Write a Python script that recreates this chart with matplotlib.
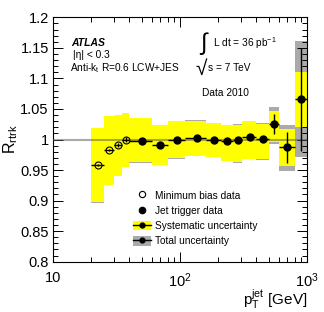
import matplotlib
matplotlib.use("Agg")
import matplotlib.pyplot as plt
from matplotlib.lines import Line2D
from matplotlib.patches import Patch
from matplotlib.ticker import MultipleLocator, LogLocator, FuncFormatter, NullFormatter
import numpy as np

plt.rcParams["font.family"] = ["Liberation Sans", "DejaVu Sans"]
plt.rcParams["mathtext.fontset"] = "custom"
plt.rcParams["mathtext.rm"] = "Liberation Sans"
plt.rcParams["mathtext.it"] = "Liberation Sans:italic"
plt.rcParams["mathtext.bf"] = "Liberation Sans:bold"

# pT bin edges [GeV]
edges = np.array([20, 25, 30, 35, 40, 60, 80, 110, 160, 210, 260, 310, 400, 500, 600, 800, 1000])

# minimum bias data (first 4 bins)
mb_val = np.array([0.958, 0.9825, 0.9907, 0.9995])
mb_err = np.array([0.002, 0.002, 0.003, 0.004])

# jet trigger data (remaining 12 bins)
jt_val = np.array([0.9972, 0.9915, 1.0, 1.0028, 0.9995, 0.998, 0.999,
                   1.0038, 1.001, 1.0257, 0.987, 1.0655])
jt_err = np.array([0.004, 0.002, 0.002, 0.002, 0.002, 0.002, 0.002,
                   0.002, 0.003, 0.016, 0.025, 0.084])

# systematic band (upper / lower edge) per bin
sys_hi = np.array([1.0188, 1.038, 1.0404, 1.0437, 1.0355, 1.0242, 1.030, 1.031,
                   1.0273, 1.0242, 1.0245, 1.030, 1.0257, 1.0463, 1.0175, 1.1097])
sys_lo = np.array([0.8969, 0.9255, 0.940, 0.9558, 0.9624, 0.9586, 0.969, 0.9738,
                   0.971, 0.9656, 0.9624, 0.9684, 0.9684, 0.9967, 0.957, 1.020])
# total band (upper / lower edge) per bin
tot_hi = np.array([1.0190, 1.0382, 1.0406, 1.0440, 1.0358, 1.0244, 1.0305, 1.0313,
                   1.0276, 1.0245, 1.0248, 1.0303, 1.0262, 1.0529, 1.0245, 1.161])
tot_lo = np.array([0.8967, 0.9252, 0.9397, 0.9555, 0.9620, 0.9582, 0.9675, 0.9734,
                   0.9706, 0.9652, 0.9620, 0.9680, 0.9665, 0.993, 0.9484, 0.971])

lo, hi = edges[:-1], edges[1:]
centers = 0.5 * (lo + hi)
n_mb = len(mb_val)

W, H = 324, 312
fig = plt.figure(figsize=(W / 100, H / 100), dpi=100)
ax = fig.add_axes([53 / W, (H - 261.7) / H, 254 / W, 244.4 / H])

ax.set_xscale("log")
ax.set_xlim(10, 1000)
ax.set_ylim(0.8, 1.2)

# uncertainty bands
ax.bar(lo, tot_hi - tot_lo, width=hi - lo, bottom=tot_lo, align="edge",
       color="#aaaaaa", linewidth=0, zorder=1)
ax.bar(lo, sys_hi - sys_lo, width=hi - lo, bottom=sys_lo, align="edge",
       color="#ffff00", linewidth=0, zorder=2)

ax.axhline(1.0, color="#555555", alpha=0.5, lw=1.5, zorder=3)

# data points
xm = centers[:n_mb]
ax.errorbar(xm, mb_val, yerr=mb_err, xerr=[xm - lo[:n_mb], hi[:n_mb] - xm],
            fmt="o", ms=5, mfc="none", mec="black", mew=0.8, color="black",
            elinewidth=1.0, capsize=0, zorder=5)
xj = centers[n_mb:]
ax.errorbar(xj, jt_val, yerr=jt_err, xerr=[xj - lo[n_mb:], hi[n_mb:] - xj],
            fmt="o", ms=5, color="black", elinewidth=1.0, capsize=0, zorder=5)

# axes styling
for s in ax.spines.values():
    s.set_linewidth(0.8)
ax.yaxis.set_major_locator(MultipleLocator(0.05))
ax.yaxis.set_minor_locator(MultipleLocator(0.01))
ax.yaxis.set_major_formatter(FuncFormatter(lambda v, p: "%g" % round(v, 3)))
ax.xaxis.set_major_locator(LogLocator(base=10))
ax.xaxis.set_minor_locator(LogLocator(base=10, subs=np.arange(2, 10)))
ax.xaxis.set_minor_formatter(NullFormatter())
ax.set_xticks([10, 100, 1000])
ax.set_xticklabels(["10", "$10^2$", "$10^3$"])
ax.tick_params(which="both", direction="in", top=True, right=True, width=0.7)
ax.tick_params(which="major", length=7)
ax.tick_params(which="minor", length=3.5)
ax.tick_params(axis="y", labelsize=10.5, pad=3)
ax.tick_params(axis="x", labelsize=10.5, pad=7)

ax.set_ylabel(r"R$_{\mathrm{rtrk}}$", fontsize=11.5, labelpad=0)
ax.set_xlabel(r"p$_{\mathrm{T}}^{\mathrm{jet}}$ [GeV]", fontsize=11, loc="right", labelpad=-2)

# labels
tf = ax.transAxes
ax.text(0.071, 0.895, "ATLAS", transform=tf, fontsize=7.5, fontweight="bold",
        fontstyle="italic", va="center")
ax.text(0.078, 0.846, "|η| < 0.3", transform=tf, fontsize=7.3, va="center")
ax.text(0.067, 0.794, r"Anti-k$_{\mathrm{t}}$ R=0.6 LCW+JES", transform=tf,
        fontsize=7.3, va="center")
ax.text(0.58, 0.893, "∫", transform=tf, fontsize=17, va="center")
ax.text(0.63, 0.895, r"L dt = 36 pb$^{\mathrm{-1}}$", transform=tf, fontsize=7.3, va="center")
ax.text(0.56, 0.786, "√", transform=tf, fontsize=15, va="center")
ax.text(0.61, 0.794, "s = 7 TeV", transform=tf, fontsize=7.3, va="center")
ax.text(0.587, 0.692, "Data 2010", transform=tf, fontsize=7.3, va="center")

# legend
handles = [
    Line2D([], [], marker="o", ls="none", ms=4.5, mfc="none", mec="black", mew=0.8),
    Line2D([], [], marker="o", ls="none", ms=4.5, color="black"),
    (Patch(facecolor="#ffff00", lw=0),
     Line2D([], [], marker="o", ms=3.5, color="black", lw=1.0)),
    (Patch(facecolor="#aaaaaa", lw=0),
     Line2D([], [], marker="o", ms=3.5, color="black", lw=1.0)),
]
labels = ["Minimum bias data", "Jet trigger data", "Systematic uncertainty", "Total uncertainty"]
ax.legend(handles, labels, loc="upper left", bbox_to_anchor=(0.316, 0.292),
          frameon=False, fontsize=7.3, borderpad=0, borderaxespad=0,
          handlelength=1.7, handleheight=1.1, handletextpad=0.45, labelspacing=0.48)

fig.savefig("out.png", dpi=100)
